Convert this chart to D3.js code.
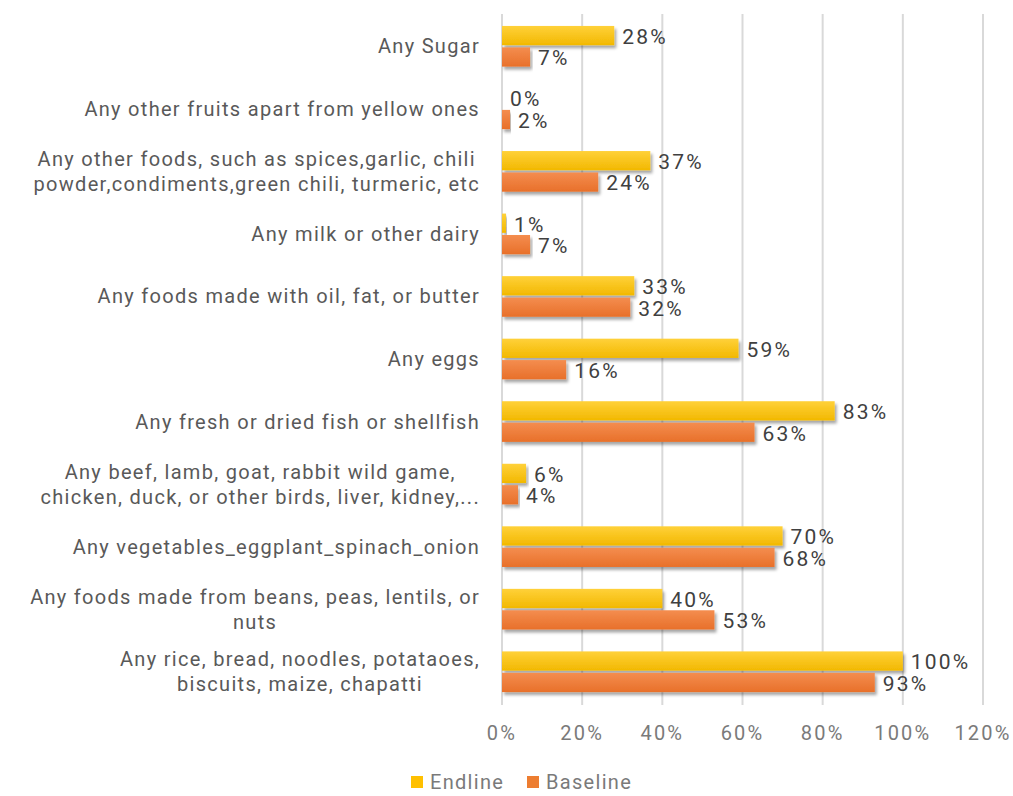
<!DOCTYPE html>
<html>
<head>
<meta charset="utf-8">
<script src="https://cdn.jsdelivr.net/npm/d3@7"></script>
<style>
  body { margin: 0; background: #fff; }
  text { font-family: Roboto, "DejaVu Sans", sans-serif; }
</style>
</head>
<body>
<div id="chart"></div>
<script>
// Categories, top to bottom (each entry split into its display lines)
const categories = [
    ["Any Sugar"],
    ["Any other fruits apart from yellow ones"],
    ["Any other foods, such as spices,garlic, chili", "powder,condiments,green chili, turmeric, etc"],
    ["Any milk or other dairy"],
    ["Any foods made with oil, fat, or butter"],
    ["Any eggs"],
    ["Any fresh or dried fish or shellfish"],
    ["Any beef, lamb, goat, rabbit wild game,", "chicken, duck, or other birds, liver, kidney,..."],
    ["Any vegetables_eggplant_spinach_onion"],
    ["Any foods made from beans, peas, lentils, or", "nuts"],
    ["Any rice, bread, noodles, potataoes,", "biscuits, maize, chapatti"]
];
const seriesNames = ["Endline", "Baseline"];
const endline = [28, 0, 37, 1, 33, 59, 83, 6, 70, 40, 100];
const baseline = [7, 2, 24, 7, 32, 16, 63, 4, 68, 53, 93];
const xTicks = [0, 20, 40, 60, 80, 100, 120];

const width = 1013, height = 796;
const plot = { left: 502, right: 983, top: 15, bottom: 703 };

const svg = d3.select("#chart").append("svg")
    .attr("width", width)
    .attr("height", height);

// Gradients and shadow like the Excel bars
const defs = svg.append("defs");
const grads = [
    { id: "gEnd", top: "#ffd13a", bottom: "#f2b800" },
    { id: "gBase", top: "#f48d4f", bottom: "#e8702a" }
];
grads.forEach(function(g) {
    const lg = defs.append("linearGradient").attr("id", g.id)
        .attr("x1", 0).attr("y1", 0).attr("x2", 0).attr("y2", 1);
    lg.append("stop").attr("offset", "0%").attr("stop-color", g.top);
    lg.append("stop").attr("offset", "100%").attr("stop-color", g.bottom);
});
const shadow = defs.append("filter").attr("id", "shadow")
    .attr("x", "-5%").attr("y", "-30%").attr("width", "115%").attr("height", "180%");
shadow.append("feDropShadow")
    .attr("dx", 2).attr("dy", 3).attr("stdDeviation", 1.8)
    .attr("flood-color", "#000").attr("flood-opacity", 0.35);

const x = d3.scaleLinear().domain([0, 120]).range([plot.left, plot.right]);
const y = d3.scaleBand()
    .domain(d3.range(categories.length))
    .range([plot.top, plot.bottom])
    .paddingInner(0.35)
    .paddingOuter(0.175);
const ySub = d3.scaleBand()
    .domain(seriesNames)
    .range([0, y.bandwidth()])
    .paddingInner(0.1);

const colors = { Endline: "url(#gEnd)", Baseline: "url(#gBase)" };
const legendColors = { Endline: "#ffc000", Baseline: "#ed7d31" };

// Vertical gridlines
svg.append("g").selectAll("line")
    .data(xTicks)
    .enter().append("line")
    .attr("x1", d => x(d)).attr("x2", d => x(d))
    .attr("y1", plot.top - 1).attr("y2", plot.bottom + 2)
    .attr("stroke", "#d9d9d9")
    .attr("stroke-width", 2);

// Tick labels
svg.append("g").selectAll("text")
    .data(xTicks)
    .enter().append("text")
    .attr("x", d => x(d))
    .attr("y", 740)
    .attr("text-anchor", "middle")
    .attr("font-size", 20)
    .attr("letter-spacing", 2.2)
    .attr("fill", "#7a7a7a")
    .text(d => d + "%");

// Bars
const rows = categories.map(function(c, i) {
    return { i: i, values: [
        { key: "Endline", v: endline[i] },
        { key: "Baseline", v: baseline[i] }
    ] };
});

const groups = svg.append("g").selectAll("g")
    .data(rows)
    .enter().append("g")
    .attr("transform", d => `translate(0,${y(d.i)})`);

groups.selectAll("rect")
    .data(d => d.values)
    .enter().append("rect")
    .attr("x", x(0))
    .attr("y", d => ySub(d.key))
    .attr("width", d => x(d.v) - x(0))
    .attr("height", ySub.bandwidth())
    .attr("fill", d => colors[d.key])
    .attr("filter", "url(#shadow)");

// Value labels
groups.selectAll("text")
    .data(d => d.values)
    .enter().append("text")
    .attr("x", d => x(d.v) + 8)
    .attr("y", d => ySub(d.key) + ySub.bandwidth() / 2 + 1)
    .attr("dy", "0.35em")
    .attr("font-size", 21)
    .attr("letter-spacing", 2.2)
    .attr("fill", "#404040")
    .text(d => d.v + "%");

// Category labels, right aligned; multi-line labels centred as a block
const labelRight = 480;
const lineH = 25;
const labels = svg.append("g").selectAll("g")
    .data(categories)
    .enter().append("g");

labels.each(function(lines, i) {
    const g = d3.select(this);
    const cy = y(i) + y.bandwidth() / 2;
    const texts = g.selectAll("text")
        .data(lines)
        .enter().append("text")
        .attr("y", (d, j) => cy + (j - (lines.length - 1) / 2) * lineH)
        .attr("dy", "0.35em")
        .attr("font-size", 20)
        .attr("letter-spacing", 1.3)
        .attr("fill", "#595959")
        .text(d => d);
    let maxW = 0;
    texts.each(function() { maxW = Math.max(maxW, this.getComputedTextLength()); });
    texts.attr("x", labelRight - maxW / 2).attr("text-anchor", "middle");
});

// Legend
const legendItems = [
    { key: "Endline", x: 411 },
    { key: "Baseline", x: 527 }
];
const legend = svg.append("g").selectAll("g")
    .data(legendItems)
    .enter().append("g")
    .attr("transform", d => `translate(${d.x},776)`);
legend.append("rect")
    .attr("width", 12).attr("height", 12)
    .attr("fill", d => legendColors[d.key]);
legend.append("text")
    .attr("x", 19).attr("y", 6)
    .attr("dy", "0.35em")
    .attr("font-size", 20)
    .attr("letter-spacing", 1.3)
    .attr("fill", "#7a7a7a")
    .text(d => d.key);
</script>
</body>
</html>
